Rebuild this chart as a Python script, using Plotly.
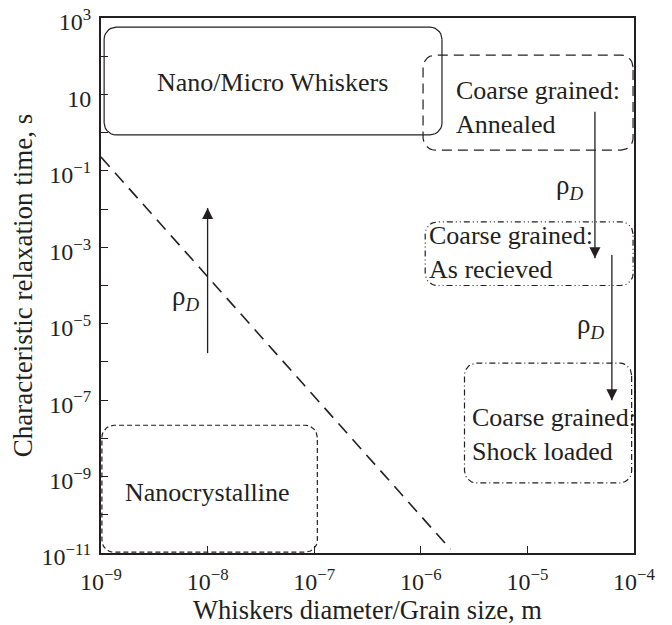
import numpy as np
import plotly.graph_objects as go

# ---------------- data ----------------
x_tick_exps = [-9, -8, -7, -6, -5, -4]
y_tick_exps = list(range(-11, 4))

# trend line (dashed diagonal)
trend_x = [1e-9, 1.9e-6]
trend_y = [0.23, 1.25e-11]

# regions (rounded boxes)
region_labels = ["Nano/Micro Whiskers", "Coarse grained:<br>Annealed",
                 "Coarse grained:<br>As recieved", "Coarse grained:<br>Shock loaded",
                 "Nanocrystalline"]
box_x0 = [1.07e-9, 1.05e-6, 1.1e-6, 2.57e-6, 1.02e-9]
box_x1 = [1.58e-6, 9.8e-5, 9.8e-5, 9.5e-5, 1.07e-7]
box_y0 = [0.87, 0.35, 1.0e-4, 6.8e-10, 1.05e-11]
box_y1 = [575, 107, 4.6e-3, 9.3e-7, 2.2e-8]
box_dash = ["solid", "10px,6px", "6px,3px,1px,3px,1px,3px", "6px,3px,1px,3px", "5px,3px"]

label_x = [4.1e-8, 2.05e-6, 1.15e-6, 2.9e-6, 1.0e-8]
label_y = [21, 4.6, 7.1e-4, 1.3e-8, 3.9e-10]
label_align = ["center", "left", "left", "left", "center"]

# rho_D arrows: x, tail y, head y
arrow_x = [1e-8, 4.3e-5, 6.2e-5]
arrow_tail_y = [1.7e-6, 3.5, 6.3e-4]
arrow_head_y = [1.07e-2, 5.2e-4, 1.0e-7]
arrow_symbol = ["arrow-up", "arrow-down", "arrow-down"]
rho_x = [6.2e-9, 2.5e-5, 3.9e-5]
rho_y = [4.7e-5, 3.8e-2, 8.6e-6]

# ---------------- layout geometry ----------------
W, H = 672, 625
ML, MT = 93, 10          # page body adds an 8px offset
PW, PH = 533, 535
MR, MB = W - ML - PW, H - MT - PH
XR = [-9, -4]
YR = [-11, 3]
sx = PW / (XR[1] - XR[0])
sy = PH / (YR[1] - YR[0])

FONT = "Liberation Serif"
INK = "#231f20"


def rounded_box(x0, x1, y0, y1, r=12, n=8):
    # work in pixel units
    X0, X1 = np.log10(x0) * sx, np.log10(x1) * sx
    Y0, Y1 = np.log10(y0) * sy, np.log10(y1) * sy
    pts = []
    corners = [(X1 - r, Y1 - r, 0, 90), (X0 + r, Y1 - r, 90, 180),
               (X0 + r, Y0 + r, 180, 270), (X1 - r, Y0 + r, 270, 360)]
    for cx, cy, a0, a1 in corners:
        for a in np.linspace(np.radians(a0), np.radians(a1), n):
            pts.append((cx + r * np.cos(a), cy + r * np.sin(a)))
    pts.append(pts[0])
    px = np.array([p[0] for p in pts]) / sx
    py = np.array([p[1] for p in pts]) / sy
    return 10 ** px, 10 ** py


fig = go.Figure()

for i in range(len(region_labels)):
    bx, by = rounded_box(box_x0[i], box_x1[i], box_y0[i], box_y1[i])
    fig.add_trace(go.Scatter(x=bx, y=by, mode="lines",
                             line=dict(color=INK, width=1.2, dash=box_dash[i]),
                             hoverinfo="skip", showlegend=False, cliponaxis=False))

fig.add_trace(go.Scatter(x=trend_x, y=trend_y, mode="lines",
                         line=dict(color=INK, width=1.6, dash="13px,8px"),
                         hoverinfo="skip", showlegend=False))

# arrows: shaft + head marker
for i in range(len(arrow_x)):
    fig.add_trace(go.Scatter(x=[arrow_x[i], arrow_x[i]], y=[arrow_tail_y[i], arrow_head_y[i]],
                             mode="lines", line=dict(color=INK, width=1.3),
                             hoverinfo="skip", showlegend=False))
    fig.add_trace(go.Scatter(x=[arrow_x[i]], y=[arrow_head_y[i]], mode="markers",
                             marker=dict(symbol=arrow_symbol[i], size=11, color=INK,
                                         line=dict(width=0)),
                             hoverinfo="skip", showlegend=False))

annotations = []
for i, t in enumerate(region_labels):
    annotations.append(dict(x=np.log10(label_x[i]), y=np.log10(label_y[i]), text=t,
                            showarrow=False, xanchor=label_align[i], yanchor="middle",
                            align="left", font=dict(family=FONT, size=26, color=INK)))

for i in range(len(arrow_x)):
    annotations.append(dict(x=np.log10(rho_x[i]), y=np.log10(rho_y[i]),
                            text="ρ<sub><i>D</i></sub>", showarrow=False,
                            font=dict(family=FONT, size=27, color=INK)))


def lab(e):
    if e == 1:
        return "10"
    return "10<sup>" + str(e).replace("-", "−") + "</sup>"


x_vals = [10.0 ** e for e in x_tick_exps]
x_text = [lab(e) for e in x_tick_exps]
y_vals = [10.0 ** e for e in y_tick_exps]
y_text = [lab(e) if e % 2 else "" for e in y_tick_exps]

axis_common = dict(type="log", showgrid=False, zeroline=False, showline=True,
                   automargin=False, ticklabeloverflow="allow",
                   linecolor=INK, linewidth=2, mirror=True, ticks="inside",
                   ticklen=7, tickwidth=1.3, tickcolor=INK,
                   tickfont=dict(family=FONT, size=24, color=INK))

fig.update_layout(
    template="none",
    width=W, height=H,
    margin=dict(l=ML, r=MR, t=MT, b=MB),
    paper_bgcolor="white", plot_bgcolor="white",
    xaxis=dict(range=XR, tickvals=x_vals, ticktext=x_text, ticklabelstandoff=6,
               title=dict(text="Whiskers diameter/Grain size, m", standoff=7,
                          font=dict(family=FONT, size=26.5, color=INK)),
               **axis_common),
    yaxis=dict(range=YR, tickvals=y_vals, ticktext=y_text, ticklabelstandoff=3,
               ticklabelshift=4,
               title=dict(text="Characteristic relaxation time, s", standoff=4,
                          font=dict(family=FONT, size=27, color=INK)),
               **axis_common),
    annotations=annotations,
)

fig.write_html("out.html")
